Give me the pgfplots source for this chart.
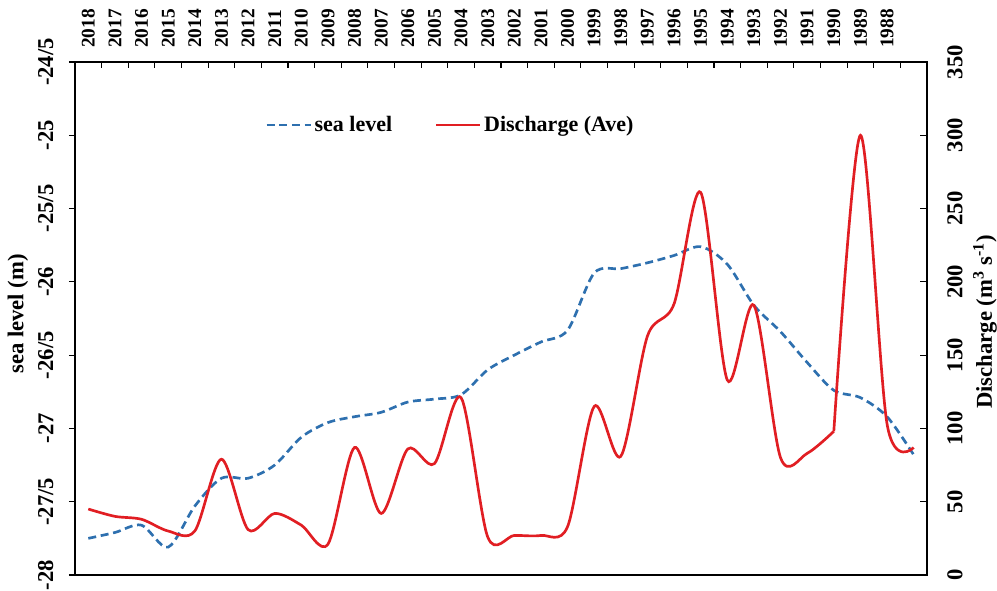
\documentclass[border=0pt]{standalone}
\usepackage{fontspec}
\setmainfont{Liberation Serif}
\usepackage{pgfplots}
\pgfplotsset{compat=1.18}
\definecolor{sl}{RGB}{46,112,175}
\definecolor{dc}{RGB}{225,30,35}
\newcommand\yr{\bfseries\fontsize{14.5}{15}\selectfont}
\begin{document}
\begin{tikzpicture}
\path[use as bounding box] (-56.25pt,-11.25pt) rectangle (691.5pt,431.25pt);
\begin{axis}[
 at={(0pt,0pt)}, anchor=south west,
 scale only axis, width=639pt, height=384.75pt,
 xmin=-0.5, xmax=31.5, ymin=-28, ymax=-24.5,
 axis line style={line width=1.1pt, black},
 tick align=inside,
 major tick length=4.5pt,
 tick style={black, line width=0.9pt},
 xtick={-0.5,0.5,1.5,2.5,3.5,4.5,5.5,6.5,7.5,8.5,9.5,10.5,11.5,12.5,13.5,14.5,15.5,16.5,17.5,18.5,19.5,20.5,21.5,22.5,23.5,24.5,25.5,26.5,27.5,28.5,29.5,30.5,31.5},
 xticklabels={{\yr 2018},{\yr 2017},{\yr 2016},{\yr 2015},{\yr 2014},{\yr 2013},{\yr 2012},{\yr 2011},{\yr 2010},{\yr 2009},{\yr 2008},{\yr 2007},{\yr 2006},{\yr 2005},{\yr 2004},{\yr 2003},{\yr 2002},{\yr 2001},{\yr 2000},{\yr 1999},{\yr 1998},{\yr 1997},{\yr 1996},{\yr 1995},{\yr 1994},{\yr 1993},{\yr 1992},{\yr 1991},{\yr 1990},{\yr 1989},{\yr 1988},{},{}},
 xtick pos=right, xticklabel pos=right,
 xticklabel style={font=\yr, xshift=9.984pt, rotate=90, anchor=west, inner sep=0pt},
 xticklabel shift=10.5pt,
 ytick={-28,-27.5,-27,-26.5,-26,-25.5,-25,-24.5},
 yticklabels={-28,-27/5,-27,-26/5,-26,-25/5,-25,-24/5},
 ytick pos=left,
 ytick style={xshift=-4.5pt},
 yticklabel style={font=\bfseries\fontsize{17}{17}\selectfont, rotate=90, anchor=south, inner sep=0pt},
 yticklabel shift=16pt,
 ylabel={sea level (m)},
 ylabel style={at={(axis description cs:-0.0669,0.509)}, anchor=center, font=\bfseries\fontsize{17}{17}\selectfont, inner sep=0pt},
 legend style={at={(axis description cs:0.223,0.877)}, anchor=west, draw=none, fill=none, inner sep=0pt,
   font=\bfseries\fontsize{16.5}{17}\selectfont, /tikz/every even column/.append style={column sep=30pt}},
 legend columns=2,
 legend image code/.code={\draw[#1] (0pt,0pt) -- (33pt,0pt);},
]
\addplot[sl, line width=2pt, dash pattern=on 6pt off 3.5pt, smooth] table {
x y
0 -27.75
1 -27.71
2 -27.66
3 -27.81
4 -27.53
5 -27.34
6 -27.34
7 -27.25
8 -27.06
9 -26.96
10 -26.92
11 -26.89
12 -26.82
13 -26.80
14 -26.77
15 -26.60
16 -26.50
17 -26.41
18 -26.33
19 -25.94
20 -25.91
21 -25.87
22 -25.82
23 -25.76
24 -25.88
25 -26.16
26 -26.34
27 -26.55
28 -26.74
29 -26.79
30 -26.92
31 -27.18
};
\addlegendentry{sea level}
\addlegendimage{dc, line width=2pt}
\addlegendentry{Discharge (Ave)}
\end{axis}
\begin{axis}[
 at={(0pt,0pt)}, anchor=south west,
 scale only axis, width=639pt, height=384.75pt,
 xmin=-0.5, xmax=31.5, ymin=0, ymax=350,
 axis x line=none, axis y line*=right,
 axis line style={-, line width=1.1pt, black},
 tick align=inside,
 major tick length=5pt,
 tick style={black, line width=0.9pt},
 ytick={0,50,100,150,200,250,300,350},
 yticklabels={0,50,100,150,200,250,300,350},
 yticklabel style={font=\bfseries\fontsize{17}{17}\selectfont, rotate=90, anchor=north, inner sep=0pt},
 yticklabel shift=15pt,
 ylabel={Discharge (m\textsuperscript{3} s\textsuperscript{-1})},
 ylabel style={at={(axis description cs:1.068,0.493)}, anchor=center, font=\bfseries\fontsize{17}{17}\selectfont, inner sep=0pt},
]
\addplot[dc, line width=2pt, smooth] table {
x y
0 45
1 40
2 38
3 30
4 30
5 79
6 31
7 42
8 34
9 21
10 87
11 42
12 86
13 76
14 121
15 26
16 27
17 27
18 33
19 115
20 81
21 163
22 185
23 261
24 133
25 184
26 80
27 83
28 98
};
\addplot[dc, line width=2pt, smooth] table {
x y
28 98
29 300
30 103
31 87
};
\end{axis}
\end{tikzpicture}
\end{document}
